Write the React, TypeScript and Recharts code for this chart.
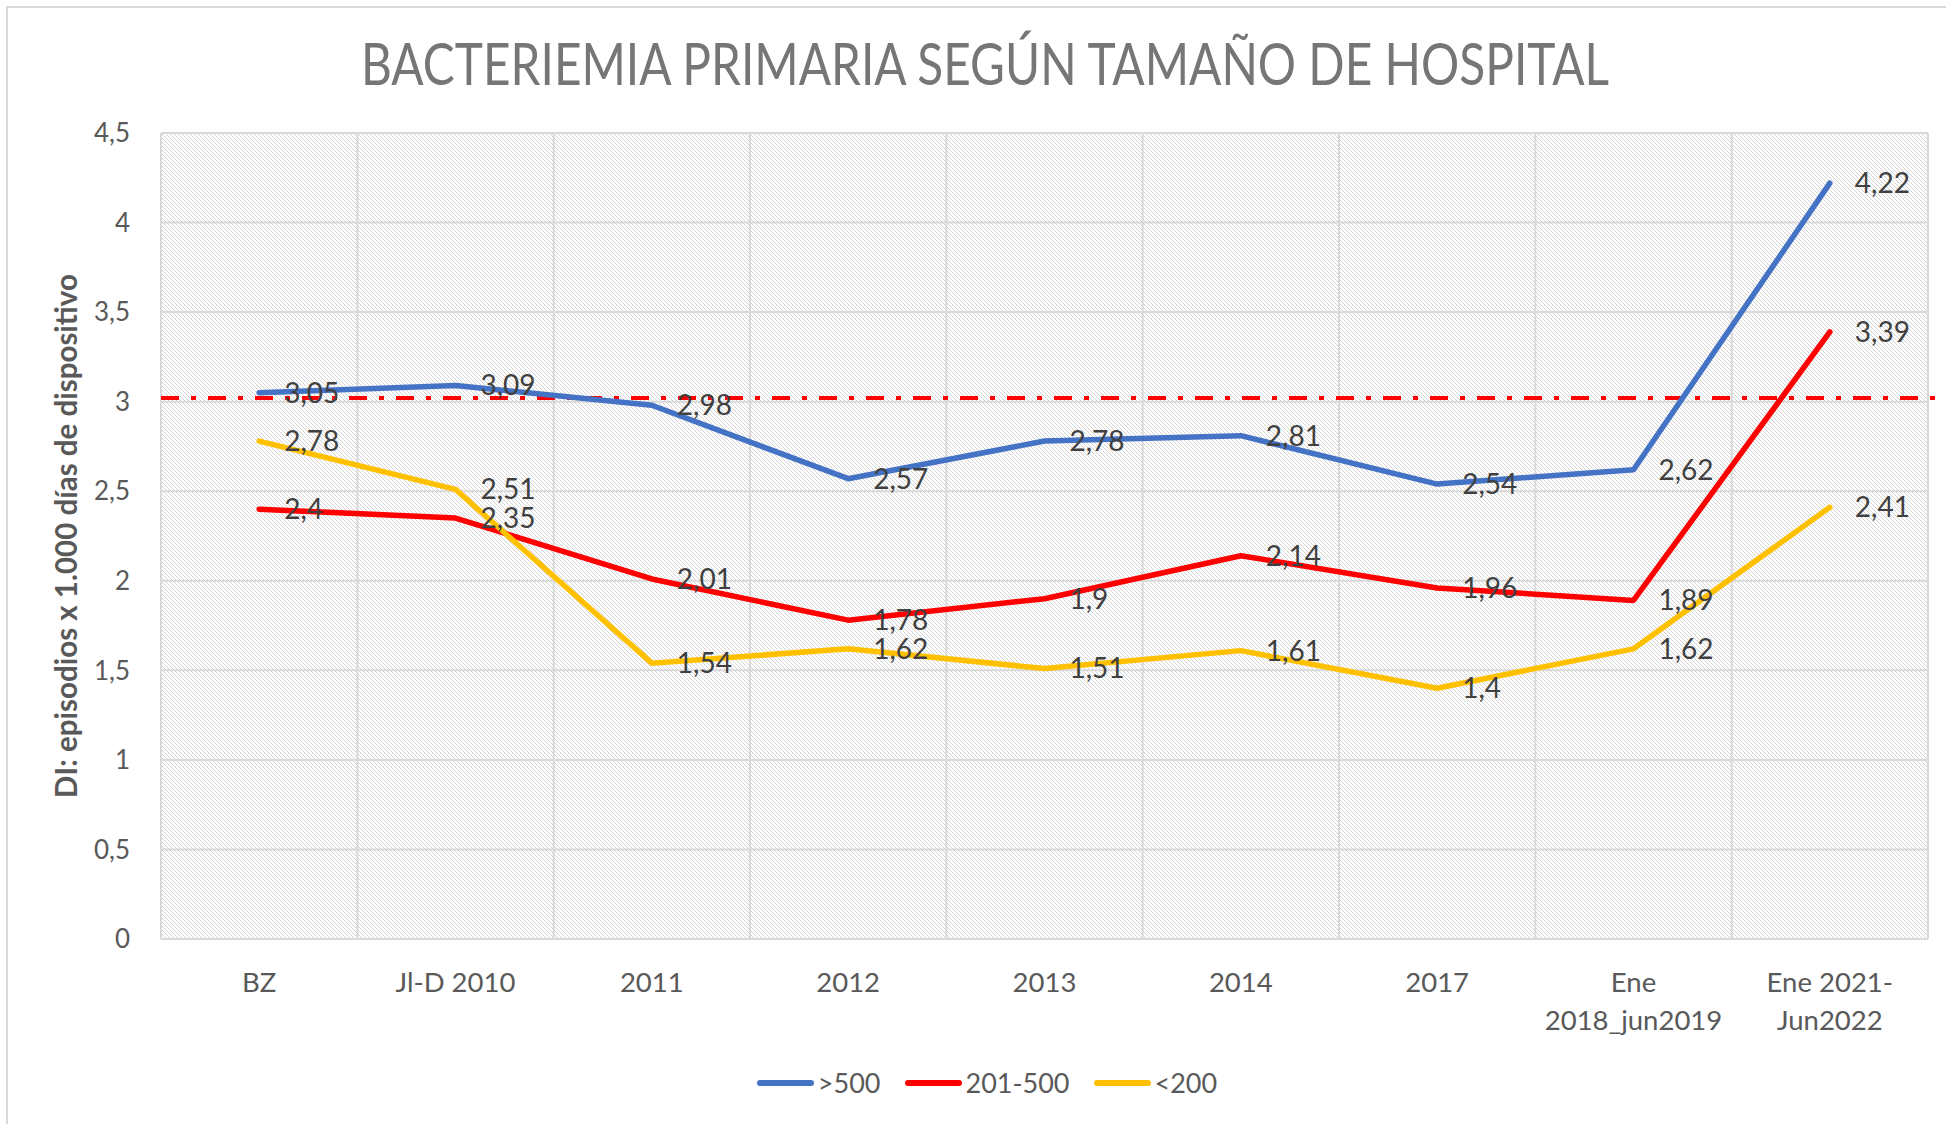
import React from 'react';
import { LineChart, Line, XAxis, YAxis, CartesianGrid, ReferenceLine, LabelList, Legend, Label } from 'recharts';

const CATEGORIES = ['BZ', 'Jl-D 2010', '2011', '2012', '2013', '2014', '2017', 'Ene\n2018_jun2019', 'Ene 2021-\nJun2022'];
const OVER_500 = [3.05, 3.09, 2.98, 2.57, 2.78, 2.81, 2.54, 2.62, 4.22];
const FROM_201_TO_500 = [2.4, 2.35, 2.01, 1.78, 1.9, 2.14, 1.96, 1.89, 3.39];
const UNDER_200 = [2.78, 2.51, 1.54, 1.62, 1.51, 1.61, 1.4, 1.62, 2.41];
const Y_TICKS = [0, 0.5, 1, 1.5, 2, 2.5, 3, 3.5, 4, 4.5];
const STANDARD = 3.02;

const SERIES = [
  { key: 'over500', name: '>500', color: '#4472C4', values: OVER_500 },
  { key: 'mid', name: '201-500', color: '#FF0000', values: FROM_201_TO_500 },
  { key: 'under200', name: '<200', color: '#FFC000', values: UNDER_200 },
];

const FONT = 'Lato, "Open Sans", sans-serif';
const GRID = '#d9d9d9';

const data = CATEGORIES.map((label, i) => {
  const row: Record<string, any> = { pos: i + 0.5, label };
  SERIES.forEach(s => { row[s.key] = s.values[i]; });
  return row;
});
const centers = data.map(d => d.pos);
const boundaries = [...CATEGORIES.map((_, i) => i), CATEGORIES.length];

const comma = (v: any) => String(v).replace('.', ',');

const XTick = ({ x, y, payload }: any) => {
  const lines = CATEGORIES[Math.round(payload.value - 0.5)].split('\n');
  return (
    <text x={x} y={y} textAnchor="middle" fill="#595959" fontSize={27.5} fontFamily={FONT}>
      {lines.map((l, i) => (
        <tspan key={i} x={x} dy={i === 0 ? 23 : 38}>{l}</tspan>
      ))}
    </text>
  );
};

const YTitle = ({ viewBox }: any) => {
  const cx = viewBox.x + 65;
  const cy = viewBox.y + viewBox.height / 2;
  return (
    <text x={cx} y={cy} transform={`rotate(-90 ${cx} ${cy})`} textAnchor="middle" dominantBaseline="central"
      fill="#595959" fontSize={29.5} fontWeight="bold" fontFamily={FONT}>
      DI: episodios x 1.000 días de dispositivo
    </text>
  );
};

const renderLegend = () => (
  <div style={{ display: 'flex', justifyContent: 'center', gap: 24, paddingLeft: 28, fontFamily: FONT, fontSize: 27, color: '#595959', lineHeight: '30px' }}>
    {SERIES.map(s => (
      <div key={s.key} style={{ display: 'flex', alignItems: 'center' }}>
        <span style={{ display: 'inline-block', width: 57, height: 6, borderRadius: 3, background: s.color, marginRight: 4 }} />
        <span>{s.name}</span>
      </div>
    ))}
  </div>
);

export default function App() {
  return (
    <div style={{ position: 'absolute', left: 0, top: 0, width: 1946, height: 1124, background: '#fff', overflow: 'hidden' }}>
      <div style={{ position: 'absolute', left: 6, top: 6, width: 2000, height: 1200, border: `2px solid ${GRID}` }} />
      <div style={{ position: 'absolute', left: 985, top: 33, transform: 'translateX(-50%) scaleX(0.81)', whiteSpace: 'nowrap', fontFamily: FONT, fontSize: 59, lineHeight: '59px', color: '#767676' }}>
        BACTERIEMIA PRIMARIA SEGÚN TAMAÑO DE HOSPITAL
      </div>
      <div style={{ position: 'absolute', left: 0, top: 0 }}>
        <LineChart width={1946} height={1124} data={data} margin={{ top: 133, right: 18, bottom: 85, left: 0 }}>
          <defs>
            <pattern id="hatch" patternUnits="userSpaceOnUse" width={4} height={4}>
              <rect x={0} y={0} width={4} height={4} fill="#ffffff" />
              <rect x={0} y={0} width={1} height={1} fill="#d4d4d4" />
              <rect x={1} y={1} width={1} height={1} fill="#d4d4d4" />
              <rect x={2} y={2} width={1} height={1} fill="#d4d4d4" />
              <rect x={3} y={3} width={1} height={1} fill="#d4d4d4" />
            </pattern>
          </defs>
          <CartesianGrid xAxisId="grid" fill="url(#hatch)" stroke={GRID} strokeWidth={2} />
          <XAxis xAxisId="grid" type="number" dataKey="pos" domain={[0, CATEGORIES.length]} ticks={boundaries} hide />
          <XAxis xAxisId="main" type="number" dataKey="pos" domain={[0, CATEGORIES.length]} ticks={centers}
            interval={0} height={100} axisLine={false} tickLine={false} tickSize={0} tickMargin={0} tick={<XTick />} />
          <YAxis domain={[0, 4.5]} ticks={Y_TICKS} width={161} axisLine={false} tickLine={false} tickMargin={25}
            tickFormatter={comma} tick={{ fill: '#595959', fontSize: 26, fontFamily: FONT }}>
            <Label content={<YTitle />} />
          </YAxis>
          <ReferenceLine xAxisId="grid" ifOverflow="visible"
            segment={[{ x: 0, y: STANDARD }, { x: CATEGORIES.length + 0.2, y: STANDARD }]}
            stroke="#FF0000" strokeWidth={4} strokeDasharray="18 12 5 12" />
          {SERIES.map(s => (
            <Line key={s.key} xAxisId="main" dataKey={s.key} name={s.name} stroke={s.color} strokeWidth={5.5}
              strokeLinecap="round" strokeLinejoin="round" dot={false} isAnimationActive={false} />
          ))}
          {SERIES.map(s => (
            <Line key={s.key + '-labels'} xAxisId="main" dataKey={s.key} stroke="none" dot={false}
              legendType="none" isAnimationActive={false}>
              <LabelList dataKey={s.key} position="right" offset={25} formatter={comma}
                fill="#404040" fontSize={28} fontFamily={FONT} />
            </Line>
          ))}
          <Legend layout="horizontal" verticalAlign="middle" align="center" content={renderLegend}
            wrapperStyle={{ top: 1068, left: 0, width: 1946 }} />
        </LineChart>
      </div>
    </div>
  );
}
